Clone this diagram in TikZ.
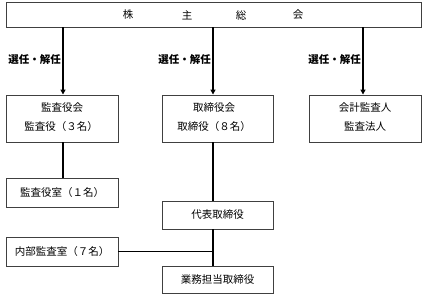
\documentclass[tikz,border=0pt]{standalone}
\usepackage{fontspec}
\setmainfont{Noto Sans CJK JP}
\usetikzlibrary{arrows.meta}
\begin{document}
\begin{tikzpicture}[x=1pt,y=-1pt,
  box/.style={draw=black!75,line width=0.9pt,fill=white,inner sep=0pt},
  txt/.style={font=\fontsize{10.5}{12}\selectfont,inner sep=0pt},
  lbl/.style={font=\fontsize{10.5}{12}\selectfont\bfseries,inner sep=0pt,anchor=east},
  conn/.style={line width=1.3pt,black},
  arr/.style={line width=1.6pt,black,-{Triangle[length=5pt,width=5pt]}}]
\useasboundingbox (0,0) rectangle (423,295);
% boxes
\draw[box] (6,2) rectangle (421,27);
\coordinate (top1) at (63,27);
\coordinate (top2) at (213,27);
\coordinate (top3) at (363,27);
\node[txt] (t1) at (128,15) {株};
\node[txt] (t2) at (187,15) {主};
\node[txt] (t3) at (241,15) {総};
\node[txt] (t4) at (298,15) {会};

\node[box,minimum width=112pt,minimum height=47pt] (kansa) at (62,118.5) {};
\node[txt] (kansa1) at (62,108) {監査役会};
\node[txt] (kansa2) at (61,127) {監査役（３名）};

\node[box,minimum width=111pt,minimum height=47pt] (tori) at (217.5,118.5) {};
\node[txt] (tori1) at (214,108) {取締役会};
\node[txt] (tori2) at (214,127) {取締役（８名）};

\node[box,minimum width=112pt,minimum height=47pt] (kaikei) at (365,118.5) {};
\node[txt] (kaikei1) at (365,108) {会計監査人};
\node[txt] (kaikei2) at (365,127) {監査法人};

\node[box,minimum width=112pt,minimum height=29pt,txt] (shitsu) at (62,192.5) {監査役室（１名）};
\node[box,minimum width=111pt,minimum height=28pt,txt] (daihyo) at (217.5,215) {代表取締役};
\node[box,minimum width=112pt,minimum height=29pt,txt] (naibu) at (62,251.5) {内部監査室（７名）};
\node[box,minimum width=111pt,minimum height=27pt,txt] (gyomu) at (217.5,279.5) {業務担当取締役};

% arrows
\draw[arr] (top1) -- (kansa.north -| top1);
\draw[arr] (top2) -- (tori.north -| top2);
\draw[arr] (top3) -- (kaikei.north -| top3);
\node[lbl] (l1) at (61,60) {選任・解任};
\node[lbl] (l2) at (211,60) {選任・解任};
\node[lbl] (l3) at (361,60) {選任・解任};

% connectors
\coordinate (c1) at (63,142);
\draw[conn] (c1) -- (shitsu.north -| c1);
\coordinate (c2) at (213,142);
\draw[conn] (c2) -- (daihyo.north -| c2);
\draw[conn] (daihyo.south -| c2) -- (gyomu.north -| c2);
\draw[conn] (naibu.east) -- (naibu.east -| c2);
\end{tikzpicture}
\end{document}
